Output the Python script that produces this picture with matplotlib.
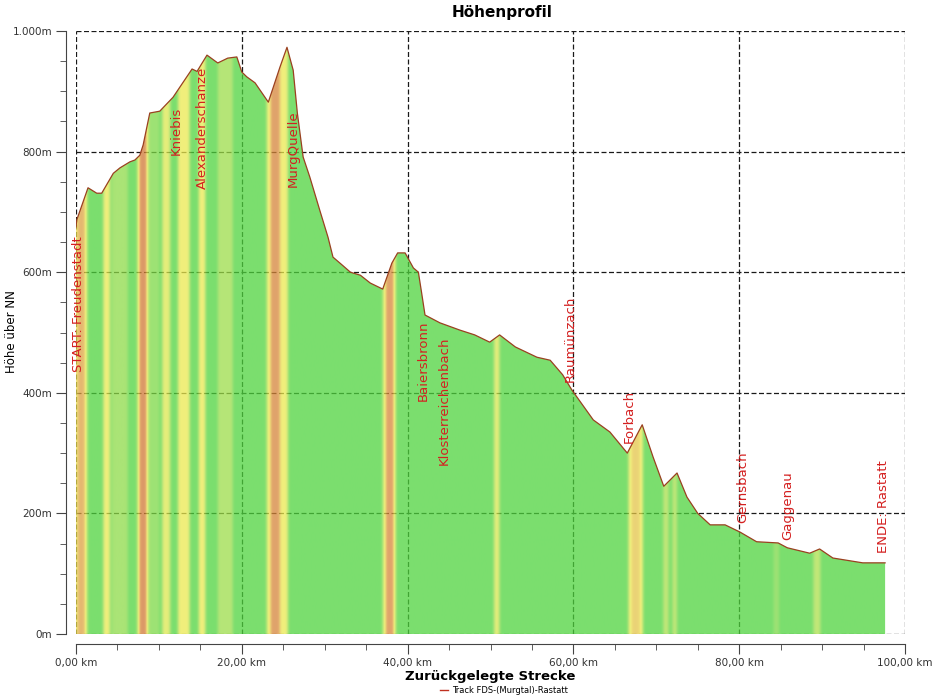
import numpy as np
import matplotlib
matplotlib.use('Agg')
import matplotlib.pyplot as plt
from matplotlib.colors import LinearSegmentedColormap
from matplotlib.lines import Line2D
from matplotlib.ticker import FuncFormatter, MultipleLocator

# elevation profile (km, m)
km = [0.0, 0.1, 1.45, 2.5, 3.1, 4.5, 5.3, 6.5, 7.1, 7.7, 8.1, 8.9, 10.1, 11.7, 14.0,
      14.6, 15.8, 17.1, 18.3, 19.4, 20.0, 20.6, 21.6, 23.2, 24.6, 25.45, 26.2, 26.7,
      27.4, 28.2, 29.4, 30.4, 31.0, 32.1, 33.1, 34.3, 35.5, 37.0, 38.1, 38.8, 39.7,
      40.7, 41.3, 41.7, 42.1, 43.9, 46.3, 48.1, 49.9, 51.1, 53.0, 55.6, 57.2, 58.7,
      59.8, 62.4, 64.4, 66.5, 68.3, 69.6, 70.9, 72.5, 73.7, 75.0, 76.5, 78.3, 80.1,
      82.1, 84.7, 85.8, 88.5, 89.7, 91.3, 94.9, 97.6]
elev = [675, 687, 740, 731, 731, 764, 773, 783, 786, 794, 811, 864, 867, 890, 937,
        933, 960, 947, 955, 957, 932, 924, 914, 882, 940, 973, 935, 864,
        791, 758, 703, 658, 625, 612, 600, 595, 582, 572, 615, 632, 632,
        607, 600, 565, 529, 516, 504, 496, 484, 496, 476, 459, 454, 430,
        405, 355, 335, 300, 347, 294, 245, 267, 227, 200, 181, 181, 169,
        153, 151, 143, 134, 141, 126, 118, 118]

# slope colour bands (start km, end km, level 0=green .. 2=red)
band_start = [0.0, 0.2, 3.3, 4.3, 7.4, 7.7, 8.7, 10.4, 12.3, 14.8, 17.1, 23.0, 23.5,
              37.0, 37.4, 50.4, 66.6, 67.0, 70.8, 71.9, 84.1, 88.9]
band_end = [1.3, 1.0, 4.1, 6.2, 8.7, 8.4, 10.0, 11.3, 13.7, 15.6, 18.9, 25.5, 24.5,
            38.5, 38.2, 51.0, 68.3, 67.9, 71.4, 72.4, 84.7, 89.7]
band_level = [1.0, 1.4, 1.0, 0.4, 1.0, 1.8, 0.3, 0.9, 1.0, 1.0, 0.5, 1.0, 1.6,
              1.0, 1.6, 0.9, 1.0, 1.2, 0.6, 0.6, 0.3, 0.6]

# waypoints (name, km, m at text bottom)
wp_names = ['START: Freudenstadt', 'Kniebis', 'Alexanderschanze', 'MurgQuelle',
            'Baiersbronn', 'Klosterreichenbach', 'Raumünzach', 'Forbach',
            'Gernsbach', 'Gaggenau', 'ENDE: Rastatt']
wp_km = [0.3, 12.1, 15.3, 26.2, 41.9, 44.4, 59.6, 66.7, 80.4, 85.9, 97.4]
wp_m = [434, 794, 738, 741, 386, 280, 418, 317, 184, 156, 134]

fig = plt.figure(figsize=(9.33, 7), dpi=100)
ax = fig.add_axes([76 / 933, 66 / 700, 829 / 933, 603 / 700])

# grid below the semi transparent fill
ax.set_axisbelow(True)
ax.grid(True, which='major', color='#1a1a1a', linestyle=(0, (4, 2)), linewidth=0.9)

# colour row from bands, softened a little like the original renderer
x_grid = np.arange(0, km[-1] + 0.05, 0.05)
level = np.zeros_like(x_grid)
for s, e, l in zip(band_start, band_end, band_level):
    sel = (x_grid >= s) & (x_grid <= e)
    level[sel] = np.maximum(level[sel], l)
kern = np.exp(-0.5 * (np.arange(-8, 9) / 3.5) ** 2)
kern /= kern.sum()
level = np.convolve(np.pad(level, 8, mode='edge'), kern, mode='valid')

cmap = LinearSegmentedColormap.from_list('slope', [
    (0.0, '#4fd43e'), (0.2, '#8edb48'), (0.5, '#ecea50'),
    (0.75, '#d98d3c'), (1.0, '#c8652e')])

poly = ax.fill_between(km, elev, 0, facecolor='none', edgecolor='none')
im = ax.imshow(level[np.newaxis, :], extent=[0, km[-1], 0, 1000], aspect='auto',
               cmap=cmap, vmin=0, vmax=2, alpha=0.75, interpolation='bilinear',
               zorder=2)
im.set_clip_path(poly.get_paths()[0], ax.transData)
ax.plot(km, elev, color='#9a4020', linewidth=0.9, zorder=3)

for name, x, y in zip(wp_names, wp_km, wp_m):
    ax.text(x, y, name, rotation=90, ha='center', va='bottom', color='#d42020',
            fontsize=9.5, zorder=4)

ax.set_xlim(0, 100)
ax.set_ylim(0, 1000)
ax.xaxis.set_major_locator(MultipleLocator(20))
ax.xaxis.set_minor_locator(MultipleLocator(5))
ax.yaxis.set_major_locator(MultipleLocator(200))
ax.yaxis.set_minor_locator(MultipleLocator(50))
ax.xaxis.set_major_formatter(FuncFormatter(lambda v, p: f'{v:.2f}'.replace('.', ',') + ' km'))
ax.yaxis.set_major_formatter(FuncFormatter(lambda v, p: f'{int(v):,}'.replace(',', '.') + 'm'))
for gl in ax.get_xgridlines() + ax.get_ygridlines():
    gl.set_clip_on(False)

for side in ['top', 'right']:
    ax.spines[side].set_visible(False)
for side in ['left', 'bottom']:
    ax.spines[side].set_position(('outward', 7))
    ax.spines[side].set_color('#444444')
ax.tick_params(which='major', length=7, color='#444444', labelcolor='#333333',
               labelsize=7.5, pad=3)
ax.tick_params(which='minor', length=4, color='#444444')

ax.set_xlabel('Zurückgelegte Strecke', fontsize=9.5, fontweight='bold', labelpad=2)
fig.text(12 / 933, 1 - 332 / 700, 'Höhe über NN', rotation=90, ha='center',
         va='center', fontsize=8.5)
fig.text(0.538, 0.982, 'Höhenprofil', ha='center', va='center', fontsize=11,
         fontweight='bold')

handle = Line2D([], [], color='#c03020', linewidth=1)
fig.legend([handle], ['Track FDS-(Murgtal)-Rastatt'], loc='center',
           bbox_to_anchor=(0.54, 0.013), fontsize=6, frameon=False,
           handlelength=1, handletextpad=0.4)

fig.savefig('out.png', dpi=100)
